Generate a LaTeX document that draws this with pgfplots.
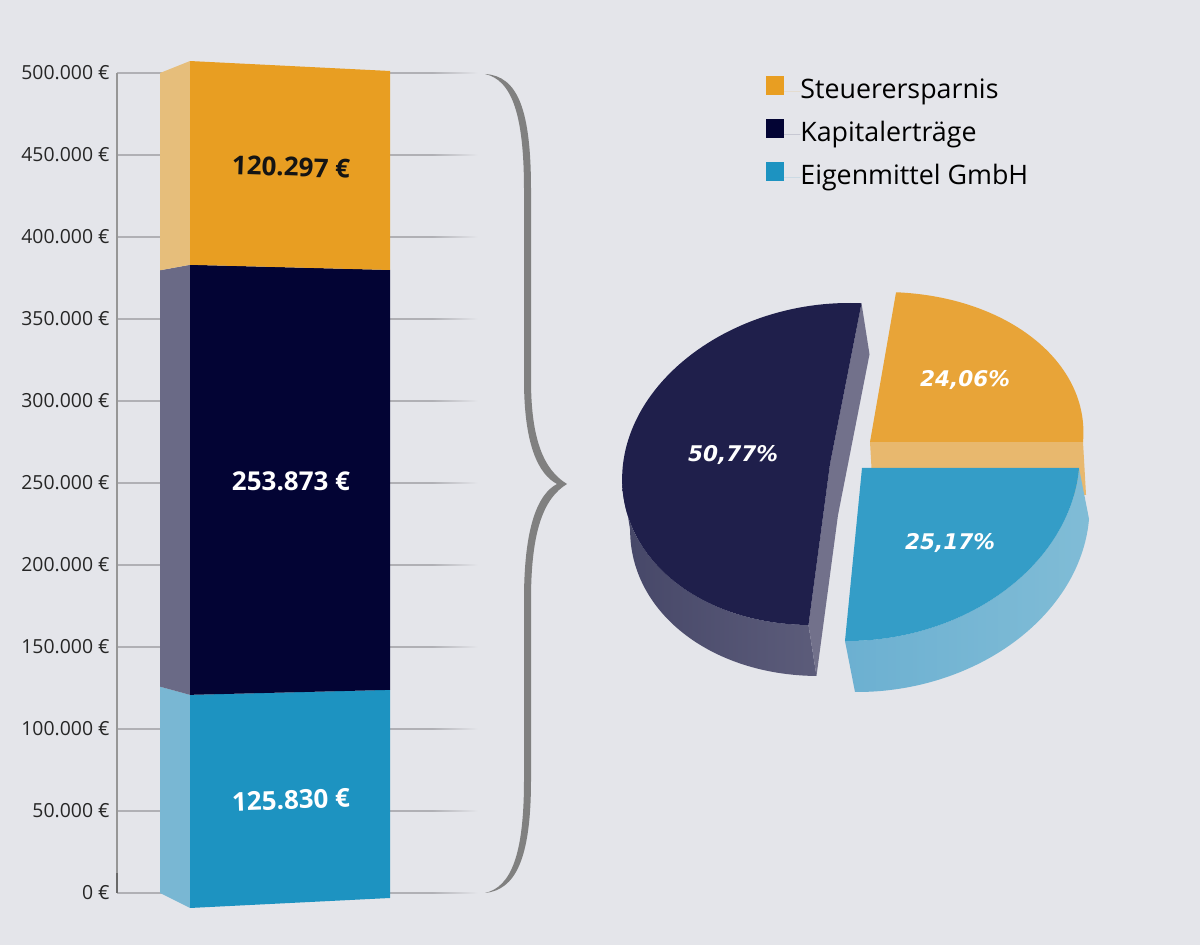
\documentclass[border=0pt]{standalone}
\usepackage{fontspec}
\setmainfont{Open Sans}
\newfontfamily\piefont{DejaVu Sans}
\usepackage{pgfplots}
\pgfplotsset{compat=1.18}
\definecolor{bg}{RGB}{228,229,234}
\definecolor{steuer}{RGB}{232,158,34}
\definecolor{steuerS}{RGB}{230,190,123}
\definecolor{kapital}{RGB}{3,4,52}
\definecolor{kapitalS}{RGB}{106,106,134}
\definecolor{eigen}{RGB}{29,147,193}
\definecolor{eigenS}{RGB}{121,183,211}
\definecolor{gridc}{RGB}{176,176,181}
\definecolor{axisc}{RGB}{150,150,150}
\definecolor{braceC}{RGB}{128,128,128}
\definecolor{pK}{RGB}{31,31,75}
\definecolor{pKcut}{RGB}{114,113,139}
\definecolor{pKsA}{RGB}{70,71,104}
\definecolor{pKsB}{RGB}{92,92,122}
\definecolor{pS}{RGB}{232,164,56}
\definecolor{pScut}{RGB}{232,184,110}
\definecolor{pE}{RGB}{52,157,199}
\definecolor{pEsA}{RGB}{108,176,209}
\definecolor{pEsB}{RGB}{128,188,214}
\begin{document}
\begin{tikzpicture}
\fill[bg] (0,0) rectangle (600pt,-472.5pt);
% ---------------- stacked bar (x in pixel units, y in EUR)
\begin{axis}[
  at={(58.5pt,-446.5pt)}, anchor=south west,
  scale only axis, width=158pt, height=410pt,
  xmin=117, xmax=433, ymin=0, ymax=500000,
  clip=false,
  axis x line=none, axis y line*=left,
  y axis line style={axisc, line width=0.75pt},
  ytick={0,50000,100000,150000,200000,250000,300000,350000,400000,450000,500000},
  scaled y ticks=false,
  major tick length=0pt,
  ymajorgrids, grid style={gridc, line width=0.7pt},
  yticklabel={\pgfmathprintnumber{\tick}~€},
  yticklabel style={font=\fontsize{9.7}{11}\selectfont, text=black!85, inner sep=0pt, xshift=-3.5pt},
  /pgf/number format/fixed,
  /pgf/number format/1000 sep={.},
  /pgf/number format/assume math mode=true,
]
\pgfplotsinvokeforeach{0,50000,100000,150000,200000,250000,300000,350000,400000,450000,500000}{
  \shade[left color=gridc, right color=bg] ([yshift=-0.35pt]axis cs:432,#1) rectangle ([yshift=0.35pt]axis cs:478,#1);
}
% side faces (values: 125830, 253873, 120297 -> cumulative 125830, 379703, 500000)
\addplot[fill=eigenS, draw=none] coordinates {(160,0) (190,-9146) (190,120824) (160,125830)};
\addplot[fill=kapitalS, draw=none] coordinates {(160,125830) (190,120824) (190,383049) (160,379703)};
\addplot[fill=steuerS, draw=none] coordinates {(160,379703) (190,383049) (190,507304) (160,500000)};
% front faces
\addplot[fill=eigen, draw=none] coordinates {(190,-9146) (390,-3049) (390,123856) (190,120824)};
\addplot[fill=kapital, draw=none] coordinates {(190,120824) (390,123856) (390,379897) (190,383049)};
\addplot[fill=steuer, draw=none] coordinates {(190,383049) (390,379897) (390,501221) (190,507304)};
\draw[axisc!70!black, line width=1pt] (axis cs:117,0) -- (axis cs:117,12000);
\node[font=\bfseries\fontsize{13}{15}\selectfont, text=black!92, rotate=-2] at (axis cs:291,442683) {120.297 €};
\node[font=\bfseries\fontsize{13}{15}\selectfont, text=white] at (axis cs:291,251220) {253.873 €};
\node[font=\bfseries\fontsize{13}{15}\selectfont, text=white, rotate=2] at (axis cs:291,56707) {125.830 €};
\end{axis}
% ---------------- brace (pixel coordinates)
\begin{scope}[x=0.5pt, y=-0.5pt]
\fill[braceC] (485,74) .. controls (518,76) and (531,110) .. (531,190)
  -- (531,380) .. controls (531,440) and (544,470) .. (567,484)
  .. controls (544,498) and (531,530) .. (531,600)
  -- (531,780) .. controls (531,860) and (515,890) .. (485,893)
  .. controls (511,887) and (524,855) .. (524,780)
  -- (524,600) .. controls (524,526) and (538,494) .. (557,484)
  .. controls (538,474) and (524,444) .. (524,380)
  -- (524,190) .. controls (524,115) and (512,80) .. (485,74) -- cycle;
\end{scope}
% ---------------- pie + legend (pixel coordinates, y negative)
\begin{axis}[
  at={(0pt,-472.5pt)}, anchor=south west,
  scale only axis, width=600pt, height=472.5pt,
  xmin=0, xmax=1200, ymin=-945, ymax=0,
  hide axis, clip=false,
  legend cell align=left,
  legend image code/.code={\fill[#1] (0pt,-1.5pt) rectangle (8.7pt,7.8pt); \path (0pt,0pt) -- (17pt,0pt);},
  legend style={at={(0.6383,0.920)}, anchor=north west, draw=none, fill=none,
    inner sep=0pt, row sep=7.5pt, font=\fontsize{13.4}{15}\selectfont,
    nodes={inner sep=0pt, text height=9.5pt, text depth=3pt}},
]
\addlegendimage{fill=steuer, draw=none}
\addlegendentry{Steuerersparnis}
\addlegendimage{fill=kapital, draw=none}
\addlegendentry{Kapitalerträge}
\addlegendimage{fill=eigen, draw=none}
\addlegendentry{Eigenmittel GmbH}
% Kapitalertraege 50,77 % : 86.616 deg to 269.388 deg
\begin{scope}[shift={(axis cs:830,-464)}, xslant=0.12]
  \shade[left color=pKsA, right color=pKsB] (185.3:103.5pt and 80.5pt)
    arc[start angle=185.3, end angle=269.388, x radius=103.5pt, y radius=80.5pt]
    -- ([shift={(7.06pt,-25.5pt)}]269.388:103.5pt and 80.5pt)
    arc[start angle=269.388, end angle=185.3, x radius=103.5pt, y radius=80.5pt] -- cycle;
  \fill[pKcut] (86.616:103.5pt and 80.5pt) -- (0pt,0pt) -- (269.388:103.5pt and 80.5pt)
    -- ([shift={(7.06pt,-25.5pt)}]269.388:103.5pt and 80.5pt) -- (7.06pt,-25.5pt)
    -- ([shift={(7.06pt,-25.5pt)}]86.616:103.5pt and 80.5pt) -- cycle;
  \fill[pK] (0pt,0pt) -- (86.616:103.5pt and 80.5pt)
    arc[start angle=86.616, end angle=269.388, x radius=103.5pt, y radius=80.5pt] -- cycle;
\end{scope}
% Steuerersparnis 24,06 % : 0 to 86.616 deg
\begin{scope}[shift={(axis cs:870,-442)}, xslant=0.09]
  \fill[pScut] (0pt,0pt) -- (0:106.5pt and 75pt) -- ([shift={(3.9pt,-26.5pt)}]0:106.5pt and 75pt) -- (3.9pt,-26.5pt) -- cycle;
  \fill[pS] (0pt,0pt) -- (0:106.5pt and 75pt)
    arc[start angle=0, end angle=86.616, x radius=106.5pt, y radius=75pt] -- cycle;
\end{scope}
% Eigenmittel 25,17 % : -90.612 to 0 deg
\begin{scope}[shift={(axis cs:862,-468)}, xslant=0.085]
  \shade[left color=pEsA, right color=pEsB] (-90.612:108.5pt and 86.5pt)
    arc[start angle=-90.612, end angle=0, x radius=108.5pt, y radius=86.5pt]
    -- ([shift={(7.17pt,-25.5pt)}]0:108.5pt and 86.5pt)
    arc[start angle=0, end angle=-90.612, x radius=108.5pt, y radius=86.5pt] -- cycle;
  \fill[pE] (0pt,0pt) -- (-90.612:108.5pt and 86.5pt)
    arc[start angle=-90.612, end angle=0, x radius=108.5pt, y radius=86.5pt] -- cycle;
\end{scope}
\node[font=\piefont\bfseries\itshape\fontsize{10.8}{12}\selectfont, text=white] at (axis cs:965,-380) {24,06\%};
\node[font=\piefont\bfseries\itshape\fontsize{10.8}{12}\selectfont, text=white] at (axis cs:733,-455) {50,77\%};
\node[font=\piefont\bfseries\itshape\fontsize{10.8}{12}\selectfont, text=white] at (axis cs:950,-543) {25,17\%};
\end{axis}
\pgfresetboundingbox
\path[use as bounding box] (0,0) rectangle (600pt,-472.5pt);
\end{tikzpicture}
\end{document}
